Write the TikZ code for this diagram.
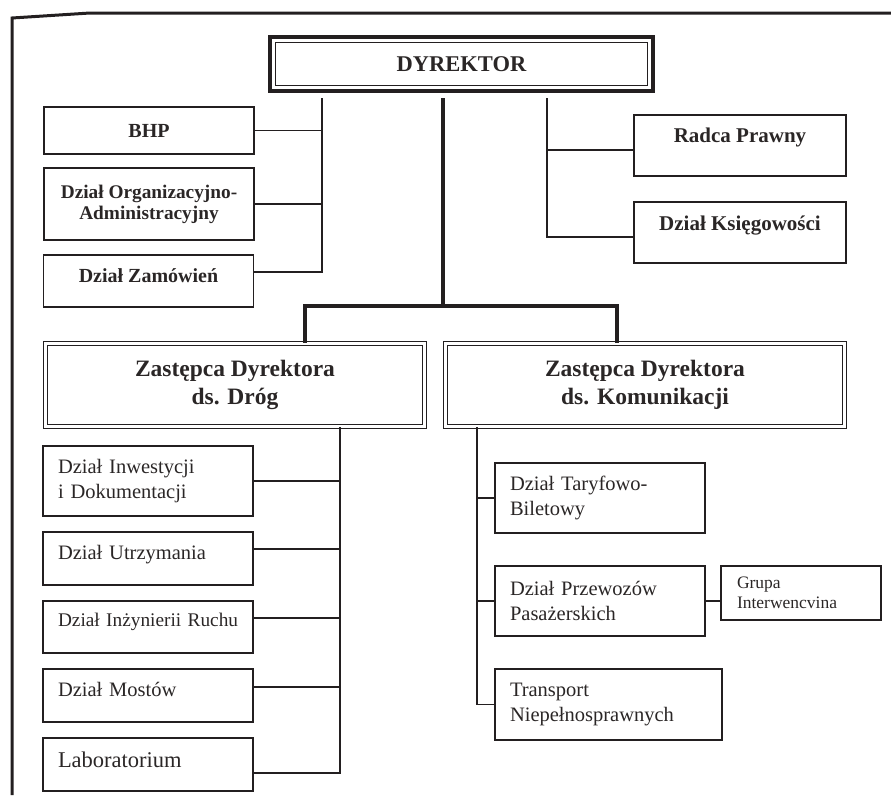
\documentclass[tikz,border=0pt]{standalone}
\usepackage{fontspec}
\setmainfont{Liberation Serif}
\usepackage{tikz}
\usetikzlibrary{positioning}
\definecolor{oink}{HTML}{231F20}
\definecolor{otext}{HTML}{2A2626}
\tikzset{
  box/.style   = {draw=oink, line width=1.2pt, rectangle, text=otext, inner sep=0pt},
  boss/.style  = {box, line width=4pt, minimum width=383pt, minimum height=54pt,
                  font=\fontsize{22.5}{26}\selectfont\bfseries},
  dep/.style   = {box, double, double distance=2.5pt, minimum width=379pt,
                  minimum height=83pt, align=center,
                  font=\fontsize{23.5}{28}\selectfont\bfseries},
  st/.style    = {box, minimum width=210pt, align=center,
                  font=\fontsize{20}{21}\selectfont\bfseries},
  unit/.style  = {box, minimum width=210pt, text width=180pt, inner xsep=15pt,
                  align=left, font=\fontsize{20.5}{25}\selectfont},
  lift/.style  = {text height=14pt, text depth=#1},
  link/.style  = {draw=oink, line width=1.2pt},
  trunk/.style = {draw=oink, line width=3.2pt},
  frame/.style = {draw=oink, line width=3pt},
}
\begin{document}
\begin{tikzpicture}[x=1pt, y=-1pt]
\useasboundingbox (0,0) rectangle (891,795);

% ---- page frame
\draw[frame] (891,13) -- (90,13) -- (12,18) -- (12,795);

% ---- director and staff units
\node[boss] (dyr) at (461.5,64) {DYREKTOR};
\draw[link, line width=1pt] ([shift={(7.5pt,-7.5pt)}]dyr.north west)
      rectangle ([shift={(-7.5pt,7.5pt)}]dyr.south east);

\node[st, minimum height=47pt]                 (bhp) at (149,130.5) {BHP};
\node[st, minimum height=72pt,
      font=\fontsize{19.3}{21}\selectfont\bfseries] (org) at (149,204) {Dział Organizacyjno-\\Administracyjny};
\node[st, minimum height=52pt, lift=11.4pt]    (zam) at (148.5,281) {Dział Zamówień};
\node[st, minimum width=212pt, minimum height=61pt, lift=19.4pt,
      font=\fontsize{21}{22}\selectfont\bfseries] (rad) at (740,145.5) {Radca Prawny};
\node[st, minimum width=212pt, minimum height=61pt, lift=17.4pt,
      font=\fontsize{21}{22}\selectfont\bfseries] (ksg) at (740,232.5) {Dział Księgowości};

% ---- deputies
\node[dep]                     (zd) at (235,385) {Zastępca Dyrektora\\ds. Dróg};
\node[dep, minimum width=399pt] (zk) at (645,385) {Zastępca Dyrektora\\ds. Komunikacji};

% ---- roads departments
\node[unit, minimum height=70pt]               (inw) at (148,481)   {Dział Inwestycji\\i Dokumentacji};
\node[unit, minimum height=53pt, lift=11.4pt]  (utr) at (148,558.5) {Dział Utrzymania};
\node[unit, minimum height=52pt, lift=15.1pt,
      font=\fontsize{19.3}{24}\selectfont]     (inz) at (148,627)   {\mbox{Dział Inżynierii Ruchu}};
\node[unit, minimum height=53pt, lift=11.4pt]  (mos) at (148,695.5) {Dział Mostów};
\node[unit, minimum height=53pt, lift=7.1pt,
      font=\fontsize{22.5}{26}\selectfont]     (lab) at (148,764.5) {Laboratorium};

% ---- transport departments
\node[unit, minimum height=70pt]               (tar) at (600,498)   {Dział Taryfowo-\\Biletowy};
\node[unit, minimum height=70pt]               (prz) at (600,601)   {Dział Przewozów\\Pasażerskich};
\node[unit, minimum width=227pt, text width=197pt,
      minimum height=71pt]                     (trn) at (608.5,704.5) {Transport\\Niepełnosprawnych};
\node[unit, minimum width=160pt, text width=128pt, inner xsep=16pt,
      minimum height=54pt,
      font=\fontsize{17.5}{20}\selectfont]     (grp) at (801,593)   {Grupa\\Interwencvina};

% ---- bus lines
\coordinate (lbus) at (322,0);
\coordinate (rbus) at (547,0);
\coordinate (dbus) at (340,0);
\coordinate (kbus) at (477,0);
\coordinate (fork) at (443,306);
\coordinate (jd)   at (305,306);
\coordinate (jk)   at (617,306);

% staff
\draw[link, shorten <=5pt] (dyr.south -| lbus) |- ([yshift=9pt]zam.east);
\draw[link] (bhp.east) -- (bhp.east -| lbus);
\draw[link] (org.east) -- (org.east -| lbus);
\draw[link, shorten <=5pt] (dyr.south -| rbus) |- ([yshift=-4.5pt]ksg.west);
\draw[link] ([yshift=-4.5pt]rad.west) -- ([yshift=-4.5pt]rad.west -| rbus);

% director to deputies
\draw[trunk, shorten <=5pt] (dyr.south -| fork) -- (fork);
\draw[trunk] (zd.north -| jd) -- (jd) -- (jk) -- (zk.north -| jk);

% roads
\draw[link] (zd.south -| dbus) |- ([yshift=-8.5pt]lab.east);
\draw[link] (inw.east) -- (inw.east -| dbus);
\draw[link] ([yshift=9.5pt]utr.east) -- ([yshift=9.5pt]utr.east -| dbus);
\draw[link] ([yshift=9pt]inz.east) -- ([yshift=9pt]inz.east -| dbus);
\draw[link] ([yshift=8.5pt]mos.east) -- ([yshift=8.5pt]mos.east -| dbus);

% transport
\draw[link] (zk.south -| kbus) |- (trn.west);
\draw[link] (tar.west) -- (tar.west -| kbus);
\draw[link] (prz.west) -- (prz.west -| kbus);
\draw[link] (prz.east) -- (prz.east -| grp.west);

\end{tikzpicture}
\end{document}
